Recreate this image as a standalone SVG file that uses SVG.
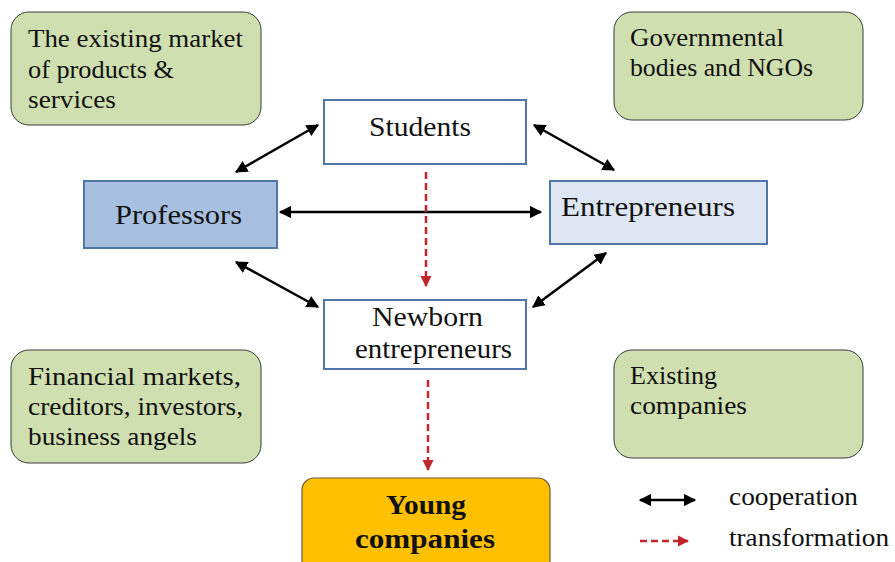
<svg xmlns="http://www.w3.org/2000/svg" width="895" height="562" viewBox="0 0 895 562">
<defs>
<marker id="ab" viewBox="0 0 10 10" refX="9" refY="5" markerWidth="5" markerHeight="5" orient="auto-start-reverse" markerUnits="strokeWidth"><path d="M0,0 L10,5 L0,10 z" fill="#000"/></marker>
<marker id="ar" viewBox="0 0 10 10" refX="9" refY="5" markerWidth="4.5" markerHeight="4.5" orient="auto" markerUnits="strokeWidth"><path d="M0,0 L10,5 L0,10 z" fill="#c0272d"/></marker>
<style>
text{font-family:"Liberation Serif","DejaVu Serif",serif;font-size:26px;fill:#111}
.g{fill:#cfdfb0;stroke:#3a3a3a;stroke-width:1}
.n{stroke:#4f76a6;stroke-width:2}
.c{stroke:#000;stroke-width:2.5;fill:none;marker-start:url(#ab);marker-end:url(#ab)}
.t{stroke:#c0272d;stroke-width:2.5;fill:none;stroke-dasharray:7,4;marker-end:url(#ar)}
.lbl{font-size:27px}
.b{font-weight:bold;font-size:27px}
</style>
</defs>
<rect width="895" height="562" fill="#fff"/>
<g id="market">
<rect class="g" x="11" y="12" width="250" height="113" rx="18"/>
<text x="28" y="47" textLength="215" lengthAdjust="spacingAndGlyphs">The existing market</text>
<text x="28" y="78" textLength="146" lengthAdjust="spacingAndGlyphs">of products &amp;</text>
<text x="28" y="108" textLength="88" lengthAdjust="spacingAndGlyphs">services</text>
</g>
<g id="gov">
<rect class="g" x="614" y="12" width="249" height="108" rx="18"/>
<text x="630" y="46" textLength="154" lengthAdjust="spacingAndGlyphs">Governmental</text>
<text x="630" y="76" textLength="183" lengthAdjust="spacingAndGlyphs">bodies and NGOs</text>
</g>
<g id="financial">
<rect class="g" x="11" y="350" width="250" height="113" rx="18"/>
<text x="28" y="385" textLength="213" lengthAdjust="spacingAndGlyphs">Financial markets,</text>
<text x="28" y="415" textLength="215" lengthAdjust="spacingAndGlyphs">creditors, investors,</text>
<text x="28" y="445" textLength="169" lengthAdjust="spacingAndGlyphs">business angels</text>
</g>
<g id="existing">
<rect class="g" x="614" y="350" width="249" height="108" rx="18"/>
<text x="630" y="384" textLength="87" lengthAdjust="spacingAndGlyphs">Existing</text>
<text x="630" y="414" textLength="117" lengthAdjust="spacingAndGlyphs">companies</text>
</g>
<g id="students">
<rect class="n" x="324" y="100" width="202" height="64" fill="#fff"/>
<text class="lbl" x="369" y="136" textLength="102" lengthAdjust="spacingAndGlyphs">Students</text>
</g>
<g id="professors">
<rect class="n" x="84" y="181" width="193" height="67" fill="#a7c0e0"/>
<text class="lbl" x="115" y="224" textLength="127" lengthAdjust="spacingAndGlyphs">Professors</text>
</g>
<g id="entrepreneurs">
<rect class="n" x="550" y="181" width="217" height="63" fill="#dde6f2"/>
<text class="lbl" x="561" y="216" textLength="174" lengthAdjust="spacingAndGlyphs">Entrepreneurs</text>
</g>
<g id="newborn">
<rect class="n" x="324" y="300" width="202" height="69" fill="#fff"/>
<text class="lbl" x="372" y="326" textLength="111" lengthAdjust="spacingAndGlyphs">Newborn</text>
<text class="lbl" x="355" y="358" textLength="157" lengthAdjust="spacingAndGlyphs">entrepreneurs</text>
</g>
<g id="young">
<rect x="302" y="478" width="248" height="95" rx="12" fill="#ffc000" stroke="#6b5a3a" stroke-width="1.2"/>
<text class="b" x="386" y="514" textLength="80" lengthAdjust="spacingAndGlyphs">Young</text>
<text class="b" x="355" y="548" textLength="140" lengthAdjust="spacingAndGlyphs">companies</text>
</g>
<g id="connectors">
<line class="c" x1="318" y1="125" x2="236" y2="172"/>
<line class="c" x1="534" y1="125" x2="614" y2="170"/>
<line class="c" x1="280" y1="212" x2="541" y2="212"/>
<line class="c" x1="236" y1="262" x2="318" y2="307"/>
<line class="c" x1="606" y1="253" x2="533" y2="307"/>
<line class="t" x1="426" y1="172" x2="426" y2="286"/>
<line class="t" x1="428" y1="380" x2="428" y2="470"/>
</g>
<g id="legend">
<line class="c" x1="640" y1="500" x2="695" y2="500"/>
<line class="t" x1="640" y1="541" x2="688" y2="541"/>
<text x="729" y="505" textLength="129" lengthAdjust="spacingAndGlyphs">cooperation</text>
<text x="729" y="546" textLength="160" lengthAdjust="spacingAndGlyphs">transformation</text>
</g>
</svg>
